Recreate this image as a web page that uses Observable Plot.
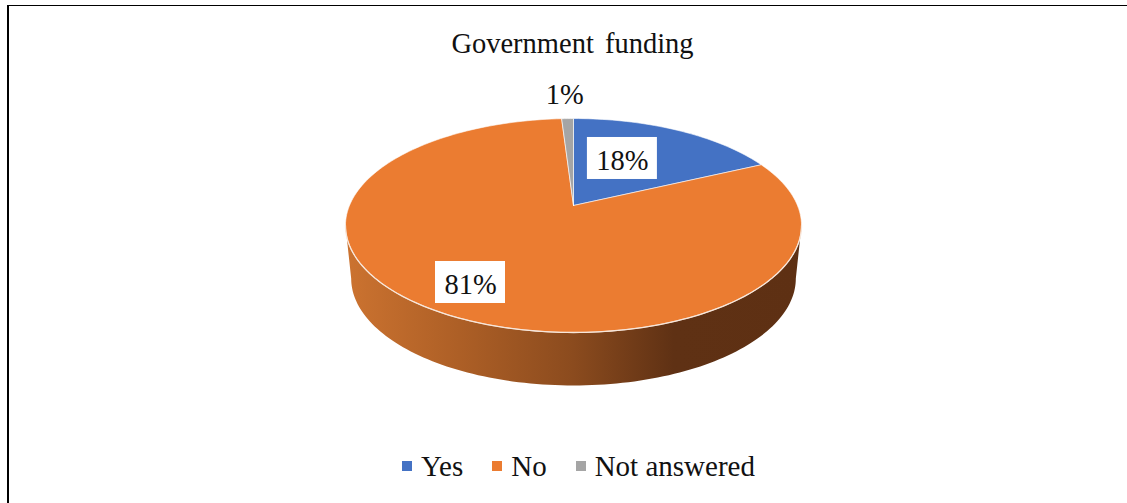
<!DOCTYPE html>
<html>
<head>
<meta charset="utf-8">
<script src="https://cdn.jsdelivr.net/npm/d3@7"></script>
<script src="https://cdn.jsdelivr.net/npm/@observablehq/plot@0.6"></script>
<style>
  html, body { margin: 0; background: #fff; }
  #chart {
    position: relative; width: 1127px; height: 503px; overflow: hidden;
    box-sizing: border-box; background: #fff;
    font-family: "Liberation Serif", serif; font-size: 28.5px; color: #111;
  }
  #edgeTop { position: absolute; left: 7px; right: 0; top: 5px; height: 1px; background: #000; }
  #edgeLeft { position: absolute; left: 7px; top: 5px; bottom: 0; width: 2px; background: #000; }
  #title {
    position: absolute; left: 0; right: 0; top: 27px; text-align: center;
    padding-left: 18px; line-height: 34px; word-spacing: 4px;
  }
  #plot { position: absolute; left: 0; top: 70px; }
  #legend {
    position: absolute; left: 402px; top: 449px; display: flex; align-items: center;
    font-size: 29px; line-height: 34px; word-spacing: 0; white-space: nowrap;
  }
  #legend .item { display: flex; align-items: center; margin-right: 29px; }
  #legend .swatch { width: 10px; height: 10px; margin-right: 9px; }
</style>
</head>
<body>
<div id="chart">
  <div id="edgeTop"></div>
  <div id="edgeLeft"></div>
  <div id="title">Government funding</div>
  <div id="plot"></div>
  <div id="legend"></div>
</div>
<script>
// Survey shares, in percent
const categories = ["Yes", "No", "Not answered"];
const shares = [18, 81, 1];
const labels = ["18%", "81%", "1%"];
const colors = ["#4472c4", "#eb7c31", "#a5a5a5"];

// Where each label sits on the disc: clockwise angle from 12 o'clock, radius in disc units
const labelAngles = [26.6, 211, -2.1];
const labelRadii = [0.531, 0.781, 1.346];
const labelBoxed = [true, true, false];

// Perspective of the tilted disc: (u, v) on a unit circle to plot units
const centerX = 573, radius = 224, tilt = 0.187, apexY = 205, slope = -64.9;
const depth = 53, floorScale = 0.975;
const plotTop = 70, plotHeight = 340;

const project = (u, v) => {
  const w = 1 + tilt * v;
  return {x: centerX + radius * u / w, y: (apexY + slope * v) / w};
};
const rad = (deg) => deg * Math.PI / 180;
const polar = (deg, r = 1) => project(r * Math.sin(rad(deg)), r * Math.cos(rad(deg)));
const floor = (p) => ({x: centerX + (p.x - centerX) * floorScale, y: p.y + depth});

// One closed polygon per slice, running clockwise from 12 o'clock
const total = d3.sum(shares);
let running = 0;
const slices = categories.flatMap((name, i) => {
  const start = running / total * 360;
  running += shares[i];
  const end = running / total * 360;
  const steps = Math.max(4, Math.ceil((end - start) / 1.5));
  const arc = d3.range(steps + 1).map((k) => polar(start + (end - start) * k / steps));
  return [project(0, 0), ...arc, project(0, 0)].map((p) => ({...p, name, fill: colors[i]}));
});

// Front wall, between the widest points of the rim
const sideStart = 90 + Math.asin(tilt) * 180 / Math.PI;
const sideEnd = 360 - sideStart;
const rim = d3.range(121).map((k) => polar(sideStart + (sideEnd - sideStart) * k / 120));
const wall = [...rim, ...rim.map(floor).reverse()];

const labelPoints = labels.map((text, i) => ({
  text, boxed: labelBoxed[i], ...polar(labelAngles[i], labelRadii[i])
}));

// Horizontal shading of the wall, drawn into the figure's own defs
const wallGradient = () => {
  const defs = d3.create("svg:defs");
  const g = defs.append("linearGradient").attr("id", "wallShade");
  [[0, "#cc7330"], [0.25, "#ad5f26"], [0.5, "#8b4b1e"], [0.72, "#5f3114"], [1, "#5e3013"]]
    .forEach(([o, c]) => g.append("stop").attr("offset", o).attr("stop-color", c));
  return defs.node();
};

const figure = Plot.plot({
  width: 1127,
  height: plotHeight,
  margin: 0,
  x: {domain: [0, 1127], range: [0, 1127], axis: null},
  y: {domain: [plotTop, plotTop + plotHeight], range: [0, plotHeight], axis: null},
  style: {background: "transparent", fontFamily: "'Liberation Serif', serif"},
  marks: [
    wallGradient,
    Plot.line(wall, {x: "x", y: "y", fill: "url(#wallShade)", stroke: "none", curve: "linear"}),
    Plot.line(slices, {
      x: "x", y: "y", z: "name", fill: "fill",
      stroke: "#ffffff", strokeWidth: 0.8, strokeOpacity: 0.75, curve: "linear"
    }),
    Plot.line(rim, {x: "x", y: "y", stroke: "#f7e6da", strokeWidth: 1.3, curve: "linear"}),
    Plot.rect(labelPoints.filter((d) => d.boxed), {
      x1: (d) => d.x - 35, x2: (d) => d.x + 35,
      y1: (d) => d.y - 23, y2: (d) => d.y + 19,
      fill: "#ffffff"
    }),
    Plot.text(labelPoints, {
      x: "x", y: "y", text: "text", fontSize: 28.5, fill: "#111111",
      textAnchor: "middle", lineAnchor: "middle"
    })
  ]
});
document.getElementById("plot").append(figure);

// Legend row under the pie
const legend = d3.select("#legend");
categories.forEach((name, i) => {
  const item = legend.append("div").attr("class", "item");
  item.append("span").attr("class", "swatch").style("background", colors[i]);
  item.append("span").text(name);
});
</script>
</body>
</html>
